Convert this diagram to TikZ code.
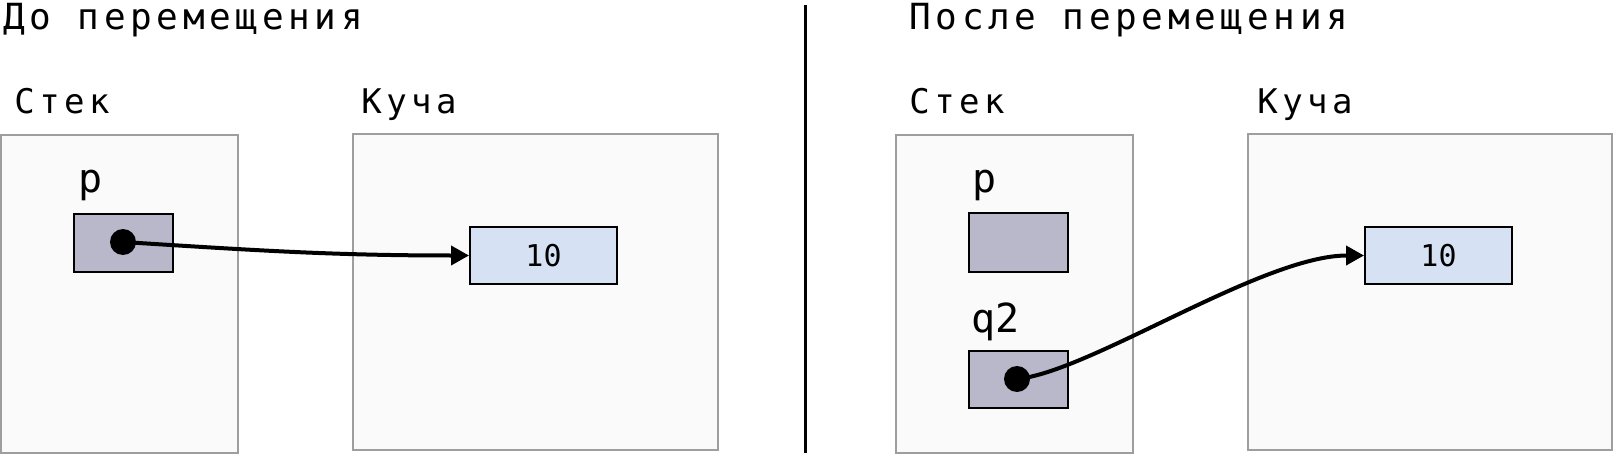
\documentclass[tikz,border=0pt]{standalone}
\usepackage{fontspec}
\usetikzlibrary{arrows.meta,fit}
\newfontfamily\monoSp[LetterSpace=13]{DejaVu Sans Mono}
\newfontfamily\mono{DejaVu Sans Mono}
\definecolor{bigfill}{HTML}{FAFAFA}
\definecolor{bigdraw}{HTML}{9E9E9E}
\definecolor{ptrfill}{HTML}{B8B8CA}
\definecolor{valfill}{HTML}{D6E2F3}
\tikzset{
  bigbox/.style={draw=bigdraw, fill=bigfill, line width=1pt, inner sep=0pt},
  ptrbox/.style={draw=black, fill=ptrfill, line width=1pt, inner sep=0pt},
  valbox/.style={draw=black, fill=valfill, line width=1pt, inner sep=0pt,
    minimum width=73.5pt, minimum height=28.5pt, font=\mono\fontsize{15pt}{18pt}\selectfont},
  ttl/.style={anchor=base west, inner sep=0pt, font=\monoSp\fontsize{18pt}{21pt}\selectfont},
  lbl/.style={anchor=base west, inner sep=0pt, font=\monoSp\fontsize{17pt}{20pt}\selectfont},
  varlbl/.style={anchor=base west, inner sep=0pt, font=\mono\fontsize{20pt}{24pt}\selectfont},
  dotn/.style={circle, fill=black, inner sep=0pt, minimum size=13pt},
  ptr/.style={line width=2pt, -{Triangle[length=9pt 0,width=9.5pt 0]}},
}
\begin{document}
\begin{tikzpicture}[x=0.5pt,y=-0.5pt]
\useasboundingbox (0,0) rectangle (1614,455);
% titles
\node[ttl] (t1) at (3,29) {До перемещения};
\node[ttl] (t2) at (909,29) {После перемещения};
\node[lbl] (s1l) at (14,113) {Стек};
\node[lbl] (h1l) at (361,113) {Куча};
\node[lbl] (s2l) at (909,113) {Стек};
\node[lbl] (h2l) at (1257,113) {Куча};
% divider
\coordinate (dt) at (805,5);
\coordinate (db) at (805,453);
\draw[line width=1.5pt] (dt) -- (db);
% big boxes
\node[bigbox, fit={(1,135) (238,453)}] (S1) {};
\node[bigbox, fit={(353,134) (718,450)}] (H1) {};
\node[bigbox, fit={(896,135) (1133,453)}] (S2) {};
\node[bigbox, fit={(1248,134) (1612,450)}] (H2) {};
% left side
\node[varlbl] (pl1) at (78,192) {p};
\node[ptrbox, fit={(74,214) (173,272)}] (p1) {};
\node[valbox] (v1) at (543.5,255.5) {10};
\node[dotn] (d1) at (123,242) {};
\draw[ptr] (d1.center) .. controls (250,250) and (330,255.5) .. (v1.west);
% right side
\node[varlbl] (pl2) at (972,192) {p};
\node[ptrbox, fit={(969,213) (1068,272)}] (p2) {};
\node[varlbl] (ql2) at (971,332) {q2};
\node[ptrbox, fit={(969,351) (1068,408)}] (q2) {};
\node[valbox] (v2) at (1438.5,255.5) {10};
\node[dotn] (d2) at (1017,379) {};
\draw[ptr] (d2.center) .. controls (1090,372) and (1262,255.5) .. (v2.west);
\end{tikzpicture}
\end{document}
